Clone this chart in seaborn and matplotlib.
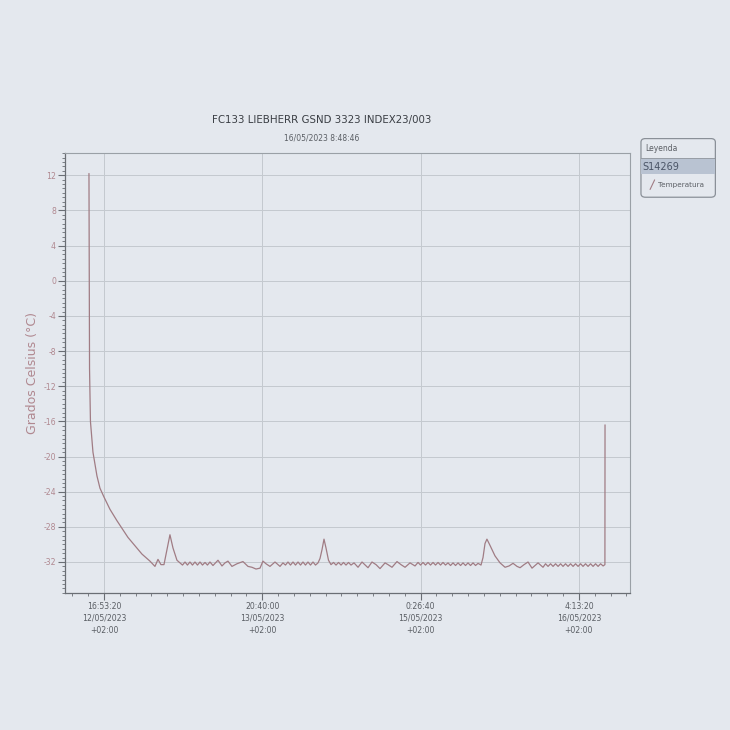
import matplotlib
matplotlib.use("Agg")
import matplotlib.pyplot as plt
from matplotlib.ticker import MultipleLocator
from matplotlib.patches import FancyBboxPatch, Rectangle
import seaborn as sns
import pandas as pd

# ---------------- data (hours after 12/05/2023 16:53:20, °C) ----------------
hours = [-2.63, -2.53, -2.37, -1.93, -1.23, -0.70, 0.00, 1.05, 2.28, 4.21, 6.67, 8.07,
         8.95, 9.48, 10.00, 10.53, 11.06, 11.58, 12.11, 12.81, 13.34,
         13.78, 14.22, 14.65, 15.09, 15.53, 15.97, 16.41, 16.85, 17.29, 17.73, 18.16, 18.60,
         19.13, 20.01, 20.71, 21.24, 21.76, 22.46, 23.34, 24.39, 25.27, 25.97, 26.68, 27.38,
         27.90, 28.43, 29.13, 30.01, 30.89, 31.41, 31.85, 32.29, 32.73, 33.17, 33.61, 34.05,
         34.49, 34.92, 35.36, 35.80, 36.24, 36.68, 37.12, 37.56,
         37.91, 38.26, 38.61, 38.96, 39.40, 39.84,
         40.28, 40.72, 41.16, 41.60, 42.03, 42.47, 42.91, 43.35, 43.88, 44.58, 45.28, 46.33,
         47.03, 47.74, 48.44, 49.32, 49.84, 50.54, 51.42, 52.12, 52.83, 53.70, 54.58, 55.11,
         55.55, 55.98, 56.42, 56.86, 57.30, 57.74, 58.18, 58.62, 59.06, 59.49, 59.93, 60.37,
         60.81, 61.25, 61.69, 62.13, 62.57, 63.00, 63.44, 63.88, 64.32, 64.76, 65.20, 65.64,
         66.16,
         66.51, 66.86, 67.20, 67.73, 68.61, 69.50, 70.38,
         71.08, 71.78, 72.48, 73.01, 73.71, 74.41, 75.11, 75.64, 76.17, 77.04, 77.48, 77.92,
         78.36, 78.80, 79.24, 79.68, 80.12, 80.55, 80.99, 81.43, 81.87, 82.31, 82.75, 83.19,
         83.63, 84.06, 84.50, 84.94, 85.38, 85.82, 86.26, 86.70, 87.14, 87.58, 87.90, 87.92]

temps = [12.2, -10.0, -16.0, -19.5, -22.2, -23.6, -24.6, -26.0, -27.3, -29.2, -31.1, -31.9,
         -32.5, -31.7, -32.3, -32.3, -30.6, -28.9, -30.4, -31.8, -32.1,
         -32.35, -32.0, -32.35, -32.0, -32.35, -32.0, -32.35, -32.0, -32.35, -32.05, -32.35, -32.0,
         -32.4, -31.8, -32.45, -32.1, -31.9, -32.5, -32.2, -31.95, -32.5, -32.6, -32.8, -32.7,
         -31.9, -32.2, -32.5, -32.0, -32.5, -32.1, -32.35, -32.0, -32.35, -32.0, -32.35, -32.0,
         -32.35, -32.0, -32.35, -32.0, -32.35, -32.0, -32.35, -32.1,
         -31.6, -30.6, -29.4, -30.4, -31.8, -32.3,
         -32.05, -32.35, -32.05, -32.35, -32.05, -32.35, -32.05, -32.35, -32.1, -32.6, -32.0, -32.65,
         -32.0, -32.3, -32.75, -32.1, -32.3, -32.6, -31.95, -32.3, -32.6, -32.1, -32.45, -32.05,
         -32.35, -32.05, -32.35, -32.05, -32.35, -32.05, -32.35, -32.05, -32.35, -32.05, -32.35, -32.1,
         -32.4, -32.1, -32.4, -32.1, -32.4, -32.1, -32.4, -32.1, -32.4, -32.1, -32.4, -32.15,
         -32.35,
         -31.5, -29.9, -29.4, -30.1, -31.3, -32.1, -32.6,
         -32.45, -32.15, -32.5, -32.65, -32.3, -32.0, -32.7, -32.4, -32.1, -32.6, -32.2, -32.5,
         -32.2, -32.5, -32.2, -32.5, -32.2, -32.5, -32.2, -32.5, -32.2, -32.5, -32.2, -32.5,
         -32.2, -32.5, -32.2, -32.5, -32.2, -32.5, -32.2, -32.5, -32.2, -32.45, -32.3, -16.4]

xtick_hours = [0.0, 27.778, 55.556, 83.333]
xtick_labels = ["16:53:20\n12/05/2023\n+02:00",
                "20:40:00\n13/05/2023\n+02:00",
                "0:26:40\n15/05/2023\n+02:00",
                "4:13:20\n16/05/2023\n+02:00"]
ytick_values = [12, 8, 4, 0, -4, -8, -12, -16, -20, -24, -28, -32]

title = "FC133 LIEBHERR GSND 3323 INDEX23/003"
subtitle = "16/05/2023 8:48:46"
ylabel = "Grados Celsius (°C)"
legend_title = "Leyenda"
legend_group = "S14269"
series_name = "Temperatura"

# ---------------- style ----------------
paper = "#e4e8ee"
line_c = "#a07c84"
grid_c = "#c4c9cf"
text_c = "#5a5e64"
pink_c = "#b08890"

sns.set_style("white")
plt.rcParams["font.family"] = ["DejaVu Sans"]

df = pd.DataFrame({"hours": hours, "temp": temps})

fig = plt.figure(figsize=(7.3, 7.3), dpi=100, facecolor=paper)
ax = fig.add_axes([0.089, 0.188, 0.774, 0.602], facecolor=paper)

sns.lineplot(data=df, x="hours", y="temp", ax=ax, color=line_c, linewidth=0.9,
             sort=False, estimator=None)

ax.set_xlim(-6.84, 92.3)
ax.set_ylim(-35.5, 14.5)

ax.set_xticks(xtick_hours)
ax.set_xticklabels(xtick_labels, fontsize=5.6, color=text_c, linespacing=1.45)
ax.xaxis.set_minor_locator(MultipleLocator(100000 / 36000))
ax.set_yticks(ytick_values)
ax.set_yticklabels([str(v) for v in ytick_values], fontsize=5.6, color=pink_c)
ax.yaxis.set_minor_locator(MultipleLocator(0.5))

ax.tick_params(axis="both", which="major", direction="out", length=5, width=0.8,
               color="#6a6e74")
ax.tick_params(axis="x", which="major", pad=1.5)
ax.tick_params(axis="y", which="major", pad=1.5)
ax.tick_params(axis="both", which="minor", direction="out", length=2.5, width=0.6,
               color="#6a6e74")
ax.tick_params(axis="x", which="both", bottom=True)
ax.tick_params(axis="y", which="both", left=True)

ax.grid(True, which="major", color=grid_c, linewidth=0.7)
for s in ["left", "bottom"]:
    ax.spines[s].set_color("#6a6e74")
    ax.spines[s].set_linewidth(0.9)
for s in ["top", "right"]:
    ax.spines[s].set_color("#9aa0a6")
    ax.spines[s].set_linewidth(0.8)

ax.set_xlabel("")
ax.set_ylabel(ylabel, fontsize=9, color=pink_c, labelpad=3)

fig.text(0.441, 0.836, title, ha="center", va="center", fontsize=7.4, color="#3a3e44")
fig.text(0.441, 0.811, subtitle, ha="center", va="center", fontsize=5.5, color=text_c)

# ---------------- legend panel ----------------
lax = fig.add_axes([0.877, 0.729, 0.104, 0.082])
lax.set_xlim(0, 1)
lax.set_ylim(0, 1)
lax.axis("off")
lax.add_patch(FancyBboxPatch((0.01, 0.01), 0.98, 0.98,
                             boxstyle="round,pad=0,rounding_size=0.06",
                             facecolor=paper, edgecolor="#8a9098", linewidth=0.9,
                             transform=lax.transAxes))
lax.text(0.06, 0.83, legend_title, fontsize=5.5, color=text_c, va="center", ha="left")
lax.plot([0.01, 0.99], [0.66, 0.66], color="#8a9098", linewidth=0.6)
lax.add_patch(Rectangle((0.01, 0.40), 0.98, 0.25, facecolor="#b9c3d2", edgecolor="none"))
lax.text(0.03, 0.52, legend_group, fontsize=7, color="#4a5466", va="center", ha="left")
lax.plot([0.13, 0.19], [0.14, 0.30], color=line_c, linewidth=0.8)
lax.text(0.24, 0.22, series_name, fontsize=5.2, color=text_c, va="center", ha="left")

fig.savefig("out.png", dpi=100, facecolor=paper)
